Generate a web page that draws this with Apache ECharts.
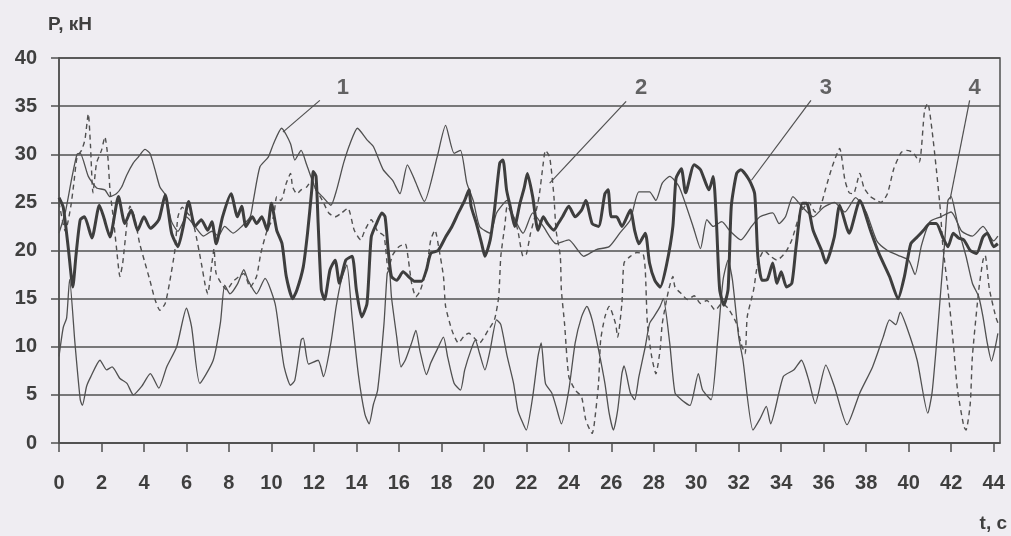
<!DOCTYPE html>
<html><head><meta charset="utf-8">
<script src="https://cdn.jsdelivr.net/npm/echarts@6/dist/echarts.min.js"></script>
<style>html,body{margin:0;padding:0;background:#efedf2}#c{width:1011px;height:536px}</style>
</head><body><div id="c"></div>
<script>
// Tick labels
const xTicks = [0,2,4,6,8,10,12,14,16,18,20,22,24,26,28,30,32,34,36,38,40,42,44];
const yTicks = [0,5,10,15,20,25,30,35,40];
const yName = 'P, кН';
const xName = 't, с';

// Series 1: thin solid (upper)
const s1 = [[0,21.8],[0.3,24],[0.6,27.5],[0.85,30],[1.0,30.1],[1.38,27.7],[1.77,26.5],[2.16,26.3],[2.4,25.6],[2.7,25.9],[2.95,26.6],[3.18,27.8],[3.5,29.1],[3.73,29.7],[4.05,30.5],[4.28,30.1],[4.52,28.4],[4.75,26.6],[5.0,25.8],[5.3,23],[5.6,22],[6.0,23.5],[6.4,22.5],[6.8,21.5],[7.2,22],[7.5,21.5],[7.8,22.5],[8.2,21.8],[8.6,22.5],[9.0,23.5],[9.15,25.2],[9.46,28.7],[9.85,29.7],[10.1,31.1],[10.48,32.7],[10.9,31.1],[11.1,29.4],[11.4,30.4],[11.66,28.9],[12.1,26.3],[12.4,25.6],[12.8,24.7],[13.07,26.3],[13.4,29.1],[13.7,31.1],[14.05,32.7],[14.5,31.5],[14.8,30.8],[15.26,28.4],[15.7,27.3],[16.05,25.9],[16.4,28.9],[16.75,27.3],[17.2,25.1],[17.8,29.7],[18.2,33.0],[18.6,30.1],[18.9,30.4],[19.2,27.0],[19.5,25.2],[19.8,22.5],[20.3,21.8],[20.6,23.9],[21.1,25.2],[21.4,23.5],[21.85,21.8],[22.3,23.9],[22.8,22.5],[23.4,20.7],[24.0,21.1],[24.7,19.4],[25.3,20.1],[25.9,20.4],[26.4,21.8],[26.9,23.2],[27.3,26.1],[27.8,26.1],[28.1,25.2],[28.4,27],[28.75,27.7],[29.2,26.6],[29.85,22.5],[30.2,20.2],[30.5,23.2],[30.8,22.5],[31.2,23],[31.6,22],[32.1,21.1],[32.6,22.5],[33.0,23.5],[33.6,23.9],[33.9,22.8],[34.2,23.5],[34.55,25.6],[35.0,24.5],[35.5,23.5],[36.0,24.5],[36.5,25],[37.0,24],[37.5,25.5],[38.0,24],[38.5,21],[39.0,20],[39.5,19.5],[40.0,19],[40.3,17.5],[40.6,20.5],[41.0,23],[41.5,23.5],[42.0,24],[42.5,22],[43.0,21.5],[43.5,22.5],[44.0,21],[44.2,21.5]];

// Series 2: dashed
const s2 = [[0,25],[0.3,22],[0.55,24.5],[0.7,27],[0.85,29.7],[1.06,30.4],[1.22,31.5],[1.38,34.2],[1.48,31],[1.6,26],[1.77,29.1],[2.0,30.4],[2.16,31.8],[2.3,29.7],[2.4,26.3],[2.55,23.5],[2.7,20.4],[2.87,17.3],[3.0,18.7],[3.2,22.8],[3.34,24.6],[3.55,23.5],[3.8,20.7],[4.05,18.7],[4.28,16.9],[4.52,14.9],[4.75,13.8],[5.0,14.5],[5.2,16.6],[5.46,20.1],[5.6,23.5],[5.8,24.5],[6.0,24],[6.2,23.5],[6.4,22.1],[6.7,18.7],[6.9,16.2],[7.0,15.5],[7.2,18.7],[7.3,20.2],[7.4,17.6],[7.9,15.9],[8.2,16.8],[8.7,17.6],[9.0,16.2],[9.3,17.3],[9.5,19.7],[9.8,22.1],[10.1,23.5],[10.25,25.6],[10.45,25.2],[10.7,27],[10.9,28],[11.0,26.6],[11.2,25.9],[11.4,26.3],[11.66,26.6],[11.9,27.3],[12.1,26.3],[12.4,25.2],[12.7,23.9],[13.0,23.5],[13.3,23.9],[13.6,24.4],[13.9,22.1],[14.2,21.1],[14.4,22.1],[14.7,23.2],[15.0,22],[15.3,21.5],[15.5,18],[15.7,19.5],[16.0,20.4],[16.3,20.7],[16.45,19],[16.6,16.6],[16.8,15.2],[17.0,15.8],[17.3,18],[17.5,21.1],[17.7,22.1],[17.9,20],[18.1,17.3],[18.2,14.2],[18.5,11.7],[18.8,10.4],[19.1,11.2],[19.3,11.4],[19.55,10.9],[19.8,10.4],[20.2,11.7],[20.5,12.8],[20.7,15.2],[20.8,19.4],[21.0,22.8],[21.1,24.6],[21.4,23.5],[21.6,22.1],[21.85,19.4],[22.0,19.6],[22.2,21.8],[22.4,23.5],[22.6,25.6],[22.8,29.1],[22.9,30.4],[23.1,29.7],[23.3,25.6],[23.4,22.1],[23.6,19.4],[23.65,15.9],[23.8,12.4],[24.0,6.9],[24.3,5.5],[24.6,4.8],[24.8,2.4],[25.1,1.0],[25.2,2.0],[25.4,6.2],[25.5,10.7],[25.7,13.1],[25.9,14.2],[26.2,12.4],[26.3,11.0],[26.5,14.5],[26.6,18.7],[26.9,19.4],[27.2,19.8],[27.5,19.6],[27.6,18],[27.7,12.4],[27.9,9.0],[28.1,7.2],[28.3,9.7],[28.4,12.4],[28.7,15.9],[28.9,17.3],[29.0,16.2],[29.3,15.5],[29.6,14.9],[29.9,15.3],[30.2,14.5],[30.5,14.8],[30.9,13.8],[31.2,14.5],[31.5,14],[31.9,12.4],[32.1,10.4],[32.3,9.3],[32.4,13.1],[32.7,15.9],[32.9,18.7],[33.2,20],[33.5,19.4],[33.8,19],[34.2,19.8],[34.5,21.1],[34.9,23.9],[35.3,25],[35.6,24],[35.8,24.2],[36.1,26.5],[36.4,28.7],[36.75,30.6],[37.0,27.3],[37.2,26],[37.4,25.9],[37.7,28],[37.9,26.5],[38.2,25.6],[38.5,25.2],[38.7,25],[39.0,25.9],[39.3,28.5],[39.65,30.2],[39.9,30.4],[40.2,30.2],[40.5,29.2],[40.75,34.6],[40.9,35.3],[41.1,32.5],[41.3,28.5],[41.5,24],[41.6,20.7],[41.85,15.9],[42.1,10.4],[42.3,5.5],[42.6,1.7],[42.7,1.35],[42.9,4.1],[43.0,9.0],[43.3,15.9],[43.5,19],[43.6,19.5],[43.8,16],[44.1,13.1],[44.2,12.5]];

// Series 3: thick solid
const s3 = [[0,25.5],[0.2,24.5],[0.45,20],[0.65,16.2],[0.8,19.5],[1.0,23.2],[1.2,23.5],[1.55,21.3],[1.9,24.7],[2.1,23.5],[2.4,21.4],[2.8,25.6],[3.1,22.8],[3.4,24.2],[3.7,22.1],[4.0,23.5],[4.3,22.3],[4.7,23.2],[5.0,25.8],[5.3,21.8],[5.6,20.4],[5.85,22.5],[6.1,25.1],[6.4,22.5],[6.7,23.2],[7.0,22.1],[7.2,23],[7.4,20.7],[7.7,23.5],[8.1,25.9],[8.4,23.5],[8.6,24.6],[8.8,22.5],[9.1,23.5],[9.3,22.8],[9.55,23.5],[9.8,22.1],[10.0,24.9],[10.25,22.1],[10.5,20.7],[10.7,17.3],[11.0,15],[11.2,15.9],[11.5,18.3],[11.7,21.8],[11.9,26.3],[11.97,28.2],[12.1,27.7],[12.2,22.8],[12.35,15.9],[12.5,14.9],[12.76,18],[13.0,19],[13.2,16.6],[13.5,19],[13.8,19.4],[14.0,15.9],[14.25,13.1],[14.5,14.5],[14.7,21.4],[14.95,22.8],[15.2,23.9],[15.35,23.5],[15.5,20],[15.65,17.3],[15.9,16.9],[16.2,17.8],[16.45,17.3],[16.75,16.8],[17.07,16.8],[17.3,18],[17.5,19.7],[17.85,20],[18.2,21.4],[18.5,22.5],[18.8,23.9],[19.1,25.2],[19.3,26.3],[19.4,24.6],[19.65,22.8],[19.9,20.7],[20.05,19.4],[20.3,21.1],[20.5,24.2],[20.75,29.1],[20.9,29.4],[21.07,26.3],[21.25,24.5],[21.45,22.5],[21.7,24.9],[21.9,26.5],[22.05,28],[22.3,25.6],[22.55,22.1],[22.8,23.5],[23.0,22.8],[23.3,22.1],[23.5,22.8],[23.7,23.5],[24.0,24.6],[24.3,23.5],[24.6,24.2],[24.8,25.2],[25.1,22.8],[25.4,22.5],[25.7,25.9],[25.85,26.3],[26.0,23.5],[26.25,23.5],[26.5,22.5],[26.9,24.2],[27.1,22.1],[27.3,20.7],[27.6,21.8],[27.8,18.7],[28.05,16.9],[28.3,16.2],[28.6,18.5],[28.9,22.5],[29.05,27.5],[29.3,28.5],[29.5,26],[29.9,28.9],[30.2,28.4],[30.6,26.3],[30.8,27.7],[30.95,23],[31.1,16],[31.3,14.3],[31.5,16],[31.65,24.6],[31.9,28],[32.1,28.4],[32.5,27.3],[32.75,25.9],[32.9,19.4],[33.1,16.9],[33.35,17],[33.6,18.7],[33.8,16.6],[34.0,17.8],[34.25,16.2],[34.5,16.6],[34.7,20.4],[35.0,24.9],[35.2,24.9],[35.5,22.1],[35.9,20],[36.1,18.7],[36.5,21.4],[36.75,24.7],[37.2,21.8],[37.7,25.2],[38.2,22.1],[38.6,19.7],[39.1,17.3],[39.5,15],[39.8,17.3],[40.1,20.7],[40.4,21.4],[40.7,22.1],[41.0,22.8],[41.3,22.8],[41.6,21.4],[41.85,20.4],[42.1,21.8],[42.35,21.3],[42.6,21.1],[42.9,20],[43.2,19.7],[43.5,21.4],[43.7,21.8],[44.0,20.4],[44.2,20.7]];

// Series 4: thin solid (lower)
const s4 = [[0,9],[0.2,12],[0.36,13],[0.5,17],[0.75,10.4],[1.0,4.5],[1.1,3.9],[1.3,5.9],[1.5,6.9],[1.93,8.6],[2.24,7.6],[2.5,7.9],[2.87,6.7],[3.2,6.2],[3.5,5.0],[3.9,5.9],[4.3,7.2],[4.7,5.7],[5.07,7.9],[5.54,10],[6.0,14.0],[6.24,12.1],[6.63,6.2],[7.26,8.6],[7.6,12.5],[7.8,16.4],[8.05,15.5],[8.4,16.5],[8.7,18],[8.9,16.9],[9.3,15.5],[9.7,17.1],[10.17,14.5],[10.4,11],[10.6,7.9],[10.9,6.0],[11.1,6.5],[11.4,10.7],[11.5,10.9],[11.75,8.2],[12.2,8.6],[12.45,6.9],[12.8,10.4],[13.05,14.2],[13.3,17],[13.55,18.5],[13.8,13],[14.1,7],[14.4,3],[14.6,2.0],[14.8,4],[15.0,5.5],[15.3,12.4],[15.45,17.6],[15.55,18],[15.65,15.2],[15.9,11],[16.1,7.9],[16.3,8.6],[16.6,10.4],[16.8,11.7],[17.0,9.5],[17.3,7.1],[17.5,8.3],[17.8,9.7],[18.1,11],[18.3,8.9],[18.6,6.2],[18.9,5.5],[19.1,7.6],[19.4,9.7],[19.6,10.7],[19.8,9.3],[20.05,7.6],[20.3,9.7],[20.6,12.8],[20.8,12.3],[21.1,9.0],[21.4,6.2],[21.6,3.4],[21.85,2.0],[22.0,1.35],[22.3,4.8],[22.55,9],[22.7,10.4],[22.9,6.2],[23.2,5.2],[23.4,3.8],[23.65,2.0],[24.0,5.5],[24.3,10.4],[24.6,13.1],[24.85,14.2],[25.1,12.8],[25.4,9.7],[25.7,6.2],[25.9,3.1],[26.1,1.35],[26.3,3.4],[26.5,7.2],[26.6,8],[26.9,5.2],[27.1,4.5],[27.3,6.9],[27.6,10],[27.8,12.4],[28.0,13.1],[28.3,14.2],[28.45,15],[28.75,10.4],[29.0,5.2],[29.3,4.5],[29.7,3.9],[30.1,7.2],[30.3,5.5],[30.7,4.5],[31.0,10.4],[31.26,16.9],[31.5,19],[31.7,17],[32.0,11],[32.2,8.6],[32.67,1.35],[33.0,2.5],[33.3,3.8],[33.5,2.0],[34.1,6.9],[34.6,7.6],[34.95,8.6],[35.3,6.5],[35.6,4.1],[36.1,8.1],[36.5,5.9],[37.1,1.9],[37.7,5.2],[38.3,7.9],[38.8,11],[39.1,12.8],[39.4,12.3],[39.6,13.6],[39.9,12.1],[40.4,8.6],[40.9,3.1],[41.1,5.2],[41.3,10],[41.5,15.5],[41.7,21],[41.85,25.2],[42.0,25.6],[42.2,23.9],[42.4,21.8],[42.7,19.4],[43.0,16.6],[43.3,15.2],[43.5,13.1],[43.7,10.4],[43.9,8.5],[44.05,9.7],[44.2,11.4]];

// Curve numbers and leader lines (start at number, end on curve)
const curveNames = ['1','2','3','4'];
const namePos = [[13.36,36.9],[27.4,36.9],[36.1,36.9],[43.1,36.9]];
const leaders = [
  [[12.28,35.6],[10.54,32.3]],
  [[26.7,35.5],[23.1,27.0]],
  [[35.4,35.6],[32.6,27.3]],
  [[42.87,35.6],[41.95,25.3]]
];

const ink = '#3f3f3f';
const font = '"Liberation Sans", Arial, sans-serif';

const series = [];
function lineSeries(data, opts) {
  return Object.assign({type:'line', data, showSymbol:false, symbol:'none', smooth:0.2, silent:true, animation:false}, opts);
}
series.push(lineSeries(s1, {lineStyle:{color:'#505050', width:1.3}}));
series.push(lineSeries(s4, {lineStyle:{color:'#505050', width:1.3}}));
series.push(lineSeries(s2, {lineStyle:{color:'#505050', width:1.4, type:[5,4]}}));
series.push(lineSeries(s3, {lineStyle:{color:'#3e3e3e', width:3}}));
leaders.forEach(l => series.push(lineSeries(l, {smooth:false, lineStyle:{color:'#505050', width:1.2}})));
series.push({
  type:'scatter', symbolSize:0, silent:true, animation:false,
  data: namePos.map((p,i)=>({value:p, name:curveNames[i]})),
  label:{show:true, formatter:'{b}', position:'inside', color:ink, fontFamily:font, fontSize:22, fontWeight:'bold'}
});

const chart = echarts.init(document.getElementById('c'), null, {renderer:'canvas'});
chart.setOption({
  backgroundColor:'#efedf2',
  animation:false,
  grid:{left:59, right:11, top:58, bottom:93, show:true, borderColor:'#505050', borderWidth:1.5, backgroundColor:'transparent'},
  xAxis:{
    type:'value', min:0, max:44.3,
    axisLine:{show:true, lineStyle:{color:'#505050', width:1.5}},
    axisTick:{show:true, inside:false, length:9, lineStyle:{color:'#505050', width:1.5}, customValues:xTicks},
    axisLabel:{show:true, margin:30, color:ink, fontFamily:font, fontSize:20, fontWeight:'bold', customValues:xTicks},
    splitLine:{show:false}
  },
  yAxis:{
    type:'value', min:0, max:40, interval:5,
    axisLine:{show:true, lineStyle:{color:'#505050', width:1.5}},
    axisTick:{show:true, inside:false, length:8, lineStyle:{color:'#505050', width:1.5}},
    axisLabel:{show:true, margin:22, color:ink, fontFamily:font, fontSize:20, fontWeight:'bold'},
    splitLine:{show:true, lineStyle:{color:'#505050', width:1.5}}
  },
  graphic:[
    {type:'text', left:48, top:15, style:{text:yName, fill:ink, font:'bold 19px "Liberation Sans", Arial, sans-serif'}},
    {type:'text', right:4, top:514, style:{text:xName, fill:ink, font:'bold 19px "Liberation Sans", Arial, sans-serif'}}
  ],
  series
});
</script></body></html>
